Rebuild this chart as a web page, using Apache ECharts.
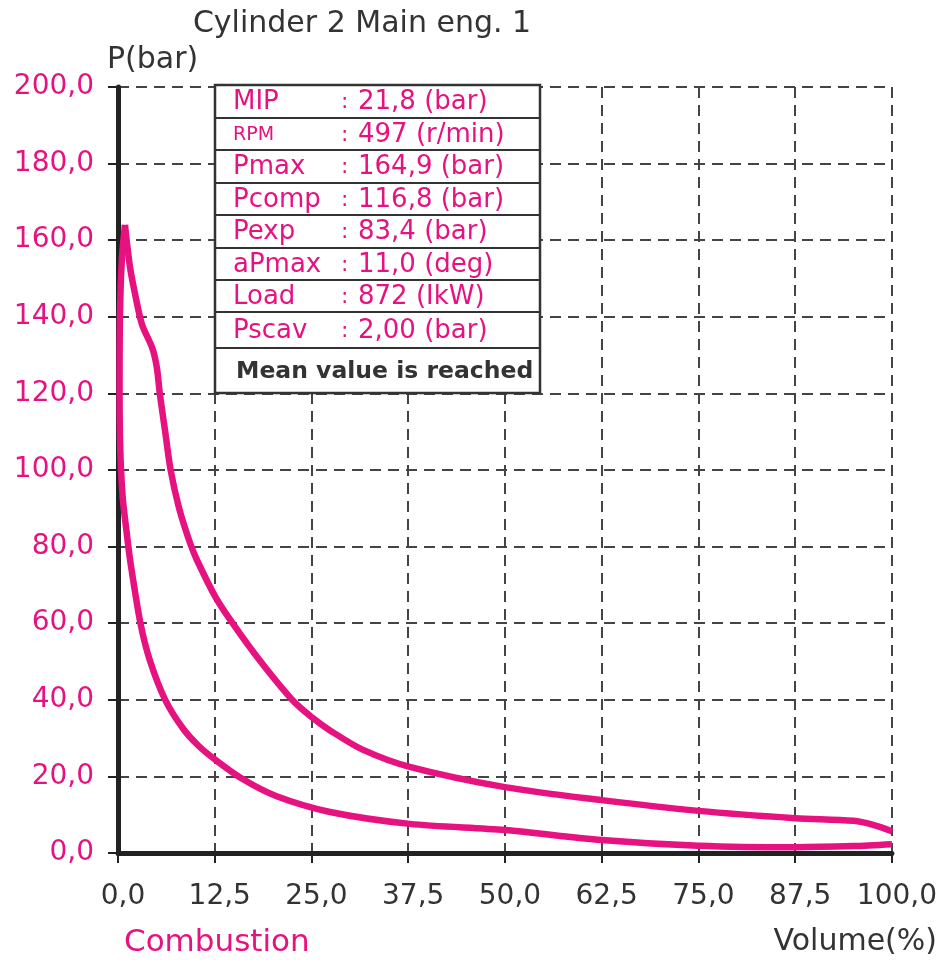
<!DOCTYPE html>
<html>
<head>
<meta charset="utf-8">
<script src="https://cdn.jsdelivr.net/npm/echarts@6/dist/echarts.min.js"></script>
<style>
  html, body { margin: 0; padding: 0; background: #fff; }
  #main { width: 940px; height: 960px; }
</style>
</head>
<body>
<div id="main"></div>
<script>
// compression stroke, read from right (BDC) to the peak
var compression = [
  [100, 2.3], [95, 1.8], [87.5, 1.5], [75, 1.9], [62.5, 3.4], [50, 6.0],
  [37.7, 7.6], [27.4, 10.7], [20.5, 14.8], [16.1, 19.3], [12.6, 24.3],
  [10.4, 28], [8.4, 32.5], [6.1, 40], [4.1, 50.4], [2.9, 60], [1.6, 76],
  [1.1, 84], [0.6, 93], [0.3, 105], [0.2, 120], [0.25, 140], [0.5, 155],
  [0.9, 164]
];
// expansion stroke, from the peak to BDC
var expansion = [
  [0.9, 164], [1.55, 153], [2.2, 146], [3.1, 138], [4.4, 132], [5.0, 127],
  [5.4, 120], [6.1, 110], [6.8, 100], [7.9, 90], [9.3, 81], [10.2, 76.5],
  [12.6, 66.8], [14.8, 60], [18.3, 50.3], [22.5, 40], [25, 35.5], [27.4, 32],
  [31.6, 27], [37.7, 22.5], [50, 17.2], [62.5, 13.8], [75, 11], [87.5, 9.1],
  [95, 8.4], [97.7, 7.3], [100, 5.7]
];
var xTicks = [0, 12.5, 25, 37.5, 50, 62.5, 75, 87.5, 100];
var yTicks = [0, 20, 40, 60, 80, 100, 120, 140, 160, 180, 200];

var infoLabels = ['MIP', 'RPM', 'Pmax', 'Pcomp', 'Pexp', 'aPmax', 'Load', 'Pscav'];
var infoValues = ['21,8 (bar)', '497 (r/min)', '164,9 (bar)', '116,8 (bar)',
                  '83,4 (bar)', '11,0 (deg)', '872 (IkW)', '2,00 (bar)'];
var infoNote = 'Mean value is reached';

var pink = '#E6127F';
var ink = '#333333';
var font = 'DejaVu Sans';

var chart = echarts.init(document.getElementById('main'));

function fmt(v) {
  return v.toFixed(1).replace('.', ',');
}

// info box
var rowEdges = [85, 118, 150, 183, 215, 248, 280, 312, 348, 393];
var box = [];
box.push({
  type: 'rect',
  shape: { x: 215, y: 85, width: 325, height: 308 },
  style: { fill: '#fff', stroke: ink, lineWidth: 2.5 },
  z: 100
});
for (var i = 1; i < rowEdges.length - 1; i++) {
  box.push({
    type: 'line',
    shape: { x1: 215, y1: rowEdges[i], x2: 540, y2: rowEdges[i] },
    style: { stroke: ink, lineWidth: 2 },
    z: 101
  });
}
for (var j = 0; j < infoLabels.length; j++) {
  var cy = (rowEdges[j] + rowEdges[j + 1]) / 2 + 1;
  box.push({
    type: 'text', x: 233, y: cy, z: 102,
    style: {
      text: infoLabels[j], fill: pink, font: (infoLabels[j] === 'RPM' ? '19px ' : '26px ') + font,
      textVerticalAlign: 'middle'
    }
  });
  box.push({
    type: 'text', x: 341, y: cy, z: 102,
    style: { text: ':', fill: pink, font: '22px ' + font, textVerticalAlign: 'middle' }
  });
  box.push({
    type: 'text', x: 358, y: cy, z: 102,
    style: { text: infoValues[j], fill: pink, font: '26px ' + font, textVerticalAlign: 'middle' }
  });
}
box.push({
  type: 'text', x: 236, y: 372, z: 102,
  style: { text: infoNote, fill: ink, font: 'bold 23.5px ' + font, textVerticalAlign: 'middle' }
});

var option = {
  backgroundColor: '#fff',
  animation: false,
  grid: { left: 118, right: 47, top: 87, bottom: 107 },
  xAxis: {
    type: 'value',
    min: 0,
    max: 100,
    interval: 12.5,
    axisLine: { show: true, onZero: false, lineStyle: { color: '#222', width: 5 } },
    axisTick: { show: true, length: 10, lineStyle: { color: '#222', width: 2 } },
    axisLabel: {
      color: ink, fontSize: 28, fontFamily: font, margin: 30,
      padding: [0, 0, 0, 10],
      formatter: function (v) { return xTicks.indexOf(v) >= 0 ? fmt(v) : ''; }
    },
    splitLine: { show: true, lineStyle: { color: '#444', width: 2, type: [11, 7] } }
  },
  yAxis: {
    type: 'value',
    min: 0,
    max: 200,
    interval: 20,
    axisLine: { show: true, onZero: false, lineStyle: { color: '#222', width: 5 } },
    axisTick: { show: true, length: 10, lineStyle: { color: '#222', width: 2 } },
    axisLabel: {
      color: pink, fontSize: 28, fontFamily: font, margin: 24,
      formatter: function (v) { return yTicks.indexOf(v) >= 0 ? fmt(v) : ''; }
    },
    splitLine: { show: true, lineStyle: { color: '#444', width: 2, type: [11, 7] } }
  },
  series: [{
    type: 'line',
    data: compression,
    showSymbol: false,
    smooth: 0.3,
    lineStyle: { color: pink, width: 6.5 },
    z: 5
  }, {
    type: 'line',
    data: expansion,
    showSymbol: false,
    smooth: 0.3,
    lineStyle: { color: pink, width: 6.5 },
    z: 5
  }],
  graphic: [
    {
      type: 'text', x: 362, y: 24, z: 110,
      style: { text: 'Cylinder 2 Main eng. 1', fill: ink, font: '30px ' + font,
               textAlign: 'center', textVerticalAlign: 'middle' }
    },
    {
      type: 'text', x: 107, y: 60, z: 110,
      style: { text: 'P(bar)', fill: ink, font: '30px ' + font, textVerticalAlign: 'middle' }
    },
    {
      type: 'text', x: 124, y: 943, z: 110,
      style: { text: 'Combustion', fill: pink, font: '31px ' + font, textVerticalAlign: 'middle' }
    },
    {
      type: 'text', x: 937, y: 942, z: 110,
      style: { text: 'Volume(%)', fill: ink, font: '30px ' + font,
               textAlign: 'right', textVerticalAlign: 'middle' }
    }
  ].concat(box)
};

chart.setOption(option);
</script>
</body>
</html>
